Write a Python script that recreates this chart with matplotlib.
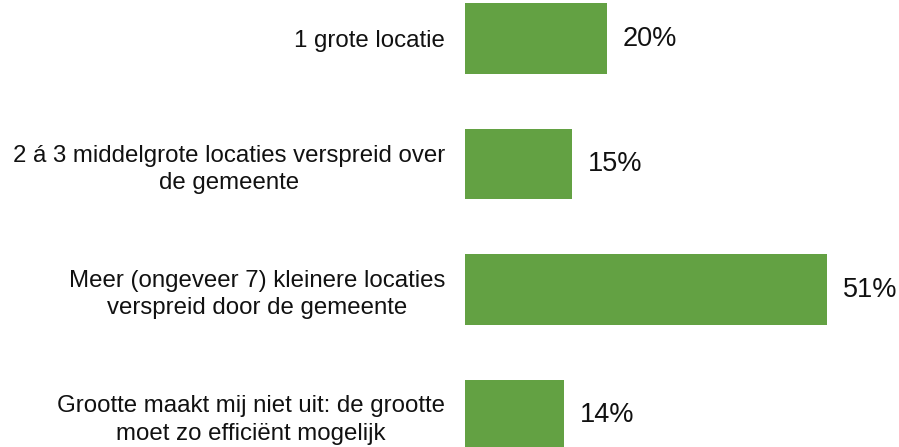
import matplotlib
matplotlib.use('Agg')
import matplotlib.pyplot as plt

# data
categories = ['1 grote locatie',
              '2 á 3 middelgrote locaties verspreid over\nde gemeente',
              'Meer (ongeveer 7) kleinere locaties\nverspreid door de gemeente',
              'Grootte maakt mij niet uit: de grootte\nmoet zo efficiënt mogelijk']
values = [20, 15, 51, 14]

plt.rcParams['font.family'] = ['Liberation Sans', 'DejaVu Sans']

fig = plt.figure(figsize=(8.99, 4.47), dpi=100, facecolor='w')
ax = fig.add_axes([465 / 899, 0, 434 / 899, 1])

ypos = list(range(len(values)))
ax.barh(ypos, values, height=0.56, color='#63A143', left=0)

for y, v in zip(ypos, values):
    ax.annotate('%d%%' % v, xy=(v, y), xytext=(11.5, 0), textcoords='offset points',
                ha='left', va='center', fontsize=19.5, color='#111111')

ax.set_yticks(ypos)
ax.set_yticklabels(categories, fontsize=17.3, color='#111111', multialignment='center',
                   linespacing=1.3)
ax.tick_params(axis='y', length=0, pad=14.4)
ax.set_xticks([])
ax.set_xlim(0, 434 / 7.1)
ax.set_ylim(3.255, -0.307)
for s in ax.spines.values():
    s.set_visible(False)

fig.savefig('out.png', dpi=100, facecolor='w')
